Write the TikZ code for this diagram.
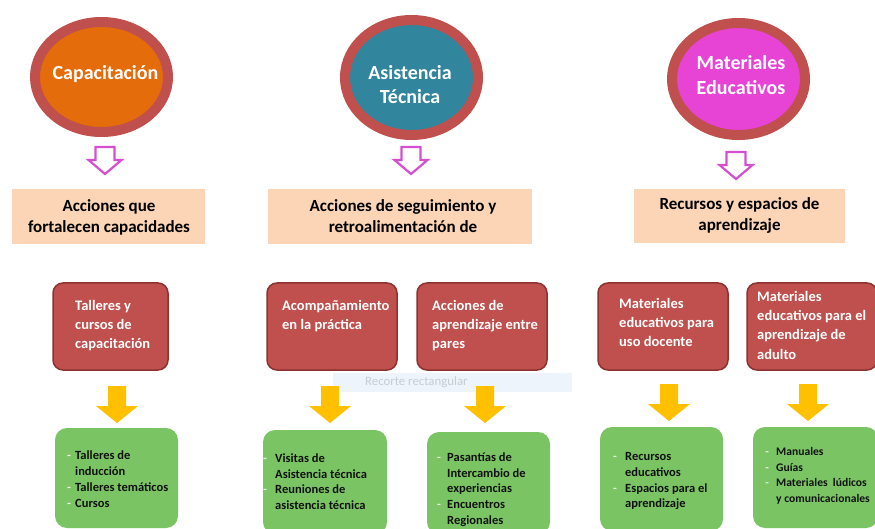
\documentclass[tikz,border=0pt]{standalone}
\usepackage{fontspec}
\setmainfont{Carlito}
\usetikzlibrary{shapes.geometric}
\definecolor{ringc}{HTML}{C0504D}
\definecolor{orangec}{HTML}{E46C0A}
\definecolor{tealc}{HTML}{31859C}
\definecolor{magc}{HTML}{E743D4}
\definecolor{peachc}{HTML}{FBD5B5}
\definecolor{redc}{HTML}{C0504D}
\definecolor{redborder}{HTML}{8C3230}
\definecolor{greenc}{HTML}{7AC464}
\definecolor{yellowc}{HTML}{FFC000}
\definecolor{pinkc}{HTML}{D64FD0}
\definecolor{dashc}{HTML}{E8F5E4}
\definecolor{gtextc}{HTML}{111111}
\definecolor{bandc}{HTML}{EEF4FB}
\definecolor{bandtext}{HTML}{C8CDD4}
\newcommand\gdash[1]{\llap{\textcolor{dashc}{-}\hspace{#1}}}
\begin{document}
\begin{tikzpicture}[x=1pt,y=-1pt,
  ring/.style={ellipse, draw=ringc, line width=10pt, minimum width=133pt, inner sep=0pt},
  ctext/.style={text=white, font=\bfseries\fontsize{20}{24.5}\selectfont, align=center, inner sep=0pt},
  peach/.style={fill=peachc, inner sep=0pt},
  ptext/.style={text=black, font=\bfseries\fontsize{17}{21.5}\selectfont, align=center, inner sep=0pt},
  redbox/.style={fill=redc, draw=redborder, line width=1.5pt, rounded corners=10pt, inner sep=0pt},
  rtext/.style={text=white, font=\bfseries\fontsize{14.5}{19.3}\selectfont, align=left, anchor=north west, inner sep=0pt},
  greenbox/.style={fill=greenc, rounded corners=12pt, inner sep=0pt},
  gtext/.style={text=gtextc, font=\bfseries\fontsize{12.5}{15.7}\selectfont, align=left, anchor=north west, inner sep=0pt},
  pinkarr/.style={draw=pinkc, line width=2.2pt, fill=white, line join=miter},
  yarr/.style={fill=yellowc}
]
\useasboundingbox (0,0) rectangle (875,529);
\fill[white] (0,0) rectangle (875,529);

% circles
\node[ring, fill=orangec, minimum height=110pt] (c1) at (101.5,77) {};
\node[ring, fill=tealc, minimum height=115pt] (c2) at (411.5,77.5) {};
\node[ring, fill=magc, minimum height=112pt] (c3) at (738.5,79) {};
\node[ctext] (c1t) at (105.5,74) {Capacitación};
\node[ctext] (c2t) at (410,84.5) {Asistencia\\Técnica};
\node[ctext] (c3t) at (741,75) {Materiales\\Educativos};

% pink hollow arrows
\coordinate (pa1) at (105,147);
\coordinate (pa2) at (411,147);
\coordinate (pa3) at (736,152);
\foreach \p in {pa1,pa2,pa3}{
  \draw[pinkarr] (\p) ++(-9.5,0) -- ++(19,0) -- ++(0,13) -- ++(7,0) -- ++(-16.5,14) -- ++(-16.5,-14) -- ++(7,0) -- cycle;
}

% peach boxes
\node[peach, minimum width=193pt, minimum height=55pt] (p1) at (108.5,216.5) {};
\node[peach, minimum width=264pt, minimum height=55pt] (p2) at (400,216.5) {};
\node[peach, minimum width=211pt, minimum height=54pt] (p3) at (739.5,216) {};
\node[ptext] (p1t) at (109,217.5) {Acciones que\\fortalecen capacidades};
\node[ptext] (p2t) at (403,216) {Acciones de seguimiento y\\retroalimentación de};
\node[ptext] (p3t) at (739.5,215.5) {Recursos y espacios de\\aprendizaje};

% red boxes
\node[redbox, minimum width=115pt, minimum height=87pt] (r1) at (110.5,326.5) {};
\node[redbox, minimum width=130pt, minimum height=87pt] (r2) at (332,326.5) {};
\node[redbox, minimum width=130pt, minimum height=87pt] (r3) at (482,326.5) {};
\node[redbox, minimum width=130pt, minimum height=87pt] (r4) at (663,326.5) {};
\node[redbox, minimum width=130pt, minimum height=87pt] (r5) at (812,326.5) {};
\node[rtext] (r1t) at (75,300) {Talleres y\\cursos de\\capacitación};
\node[rtext] (r2t) at (282,300) {Acompañamiento\\en la práctica};
\node[rtext] (r3t) at (432,300) {Acciones de\\aprendizaje entre\\pares};
\node[rtext] (r4t) at (619,298) {Materiales\\educativos para\\uso docente};
\node[rtext] (r5t) at (757,291) {Materiales\\educativos para el\\aprendizaje de\\adulto};

% band (screen artifact)
\node[fill=bandc, minimum width=239pt, minimum height=19pt, inner sep=0pt] (band) at (452.5,382.5) {};
\node[text=bandtext, font=\fontsize{12.8}{14}\selectfont, anchor=west, inner sep=0pt] (bandt) at (365,382) {Recorte rectangular};

% yellow arrows
\coordinate (ya1) at (117,386);
\coordinate (ya2) at (330,386);
\coordinate (ya3) at (485,386);
\coordinate (ya4) at (669,384);
\coordinate (ya5) at (808,384);
\foreach \p in {ya1,ya2,ya3,ya4,ya5}{
  \fill[yarr] (\p) ++(-9,0) -- ++(18,0) -- ++(0,20) -- ++(12,0) -- ++(-21,17) -- ++(-21,-17) -- ++(12,0) -- cycle;
}

% green boxes
\node[greenbox, minimum width=123pt, minimum height=100pt] (g1) at (116.5,478) {};
\node[greenbox, minimum width=124pt, minimum height=104pt] (g2) at (325,482) {};
\node[greenbox, minimum width=123pt, minimum height=102pt] (g3) at (488.5,483) {};
\node[greenbox, minimum width=123pt, minimum height=104pt] (g4) at (661.5,479) {};
\node[greenbox, minimum width=125pt, minimum height=101pt] (g5) at (815.5,477.5) {};
\node[gtext] (g1t) at (75,451) {\gdash{4.2pt}Talleres de\\inducción\\\gdash{4.2pt}Talleres temáticos\\\gdash{4.2pt}Cursos};
\node[gtext] (g2t) at (275,453.5) {\gdash{8.2pt}Visitas de\\Asistencia técnica\\\gdash{8.2pt}Reuniones de\\asistencia técnica};
\node[gtext] (g3t) at (447,452.5) {\gdash{6.2pt}Pasantías de\\Intercambio de\\experiencias\\\gdash{6.2pt}Encuentros\\Regionales};
\node[gtext] (g4t) at (625,452.5) {\gdash{8.2pt}Recursos\\educativos\\\gdash{8.2pt}Espacios para el\\aprendizaje};
\node[gtext, font=\bfseries\fontsize{11.6}{15.4}\selectfont] (g5t) at (776,447.5) {\gdash{7.2pt}Manuales\\\gdash{7.2pt}Guías\\\gdash{7.2pt}Materiales\ \ lúdicos\\y comunicacionales};
\end{tikzpicture}
\end{document}
